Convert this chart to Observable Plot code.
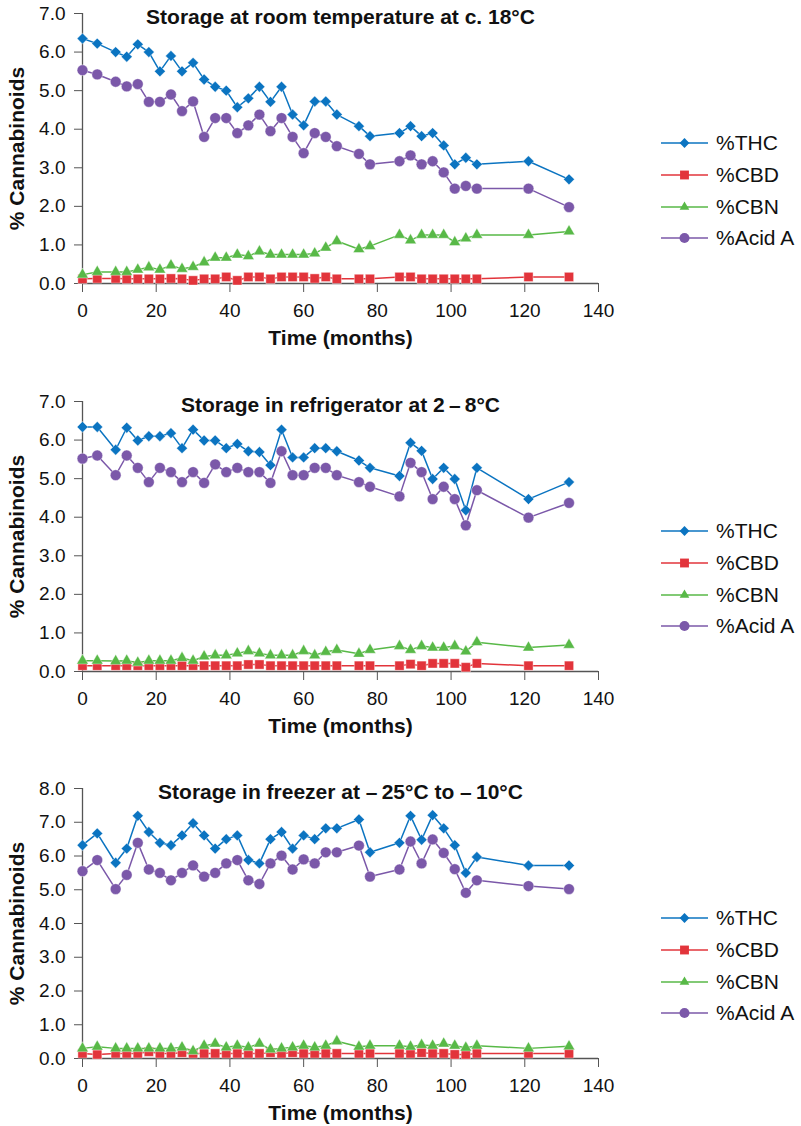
<!DOCTYPE html>
<html><head><meta charset="utf-8">
<script src="https://cdn.jsdelivr.net/npm/d3@7"></script>
<script src="https://cdn.jsdelivr.net/npm/@observablehq/plot@0.6"></script>
<style>
body{margin:0;background:#fff;font-family:"Liberation Sans",Arial,sans-serif;}
#chart{position:relative;width:801px;height:1126px;overflow:hidden;background:#fff;}
.panel{position:absolute;left:0;}
.legend{position:absolute;left:661px;}
.legend .item{position:absolute;left:0;height:24px;display:flex;align-items:center;white-space:nowrap;font-size:21px;color:#111;}
.legend .item svg{margin-right:7px;overflow:visible;}
</style></head><body><div id="chart"></div>
<script>
const months = [0,4,9,12,15,18,21,24,27,30,33,36,39,42,45,48,51,54,57,60,63,66,69,75,78,86,89,92,95,98,101,104,107,121,132];

const roomTHC  = [6.35,6.22,6.0,5.88,6.2,6.0,5.5,5.9,5.5,5.72,5.29,5.1,5.0,4.57,4.8,5.1,4.71,5.1,4.38,4.1,4.72,4.72,4.38,4.08,3.82,3.9,4.08,3.82,3.9,3.58,3.09,3.26,3.09,3.17,2.7];
const roomCBD  = [0.12,0.13,0.13,0.12,0.12,0.12,0.12,0.13,0.12,0.08,0.12,0.12,0.17,0.08,0.17,0.17,0.12,0.17,0.17,0.17,0.13,0.17,0.12,0.12,0.12,0.17,0.17,0.12,0.12,0.12,0.12,0.12,0.12,0.17,0.17];
const roomCBN  = [0.23,0.30,0.30,0.30,0.36,0.42,0.36,0.47,0.38,0.43,0.55,0.67,0.67,0.75,0.71,0.83,0.75,0.75,0.75,0.75,0.78,0.93,1.10,0.89,0.97,1.26,1.12,1.26,1.26,1.26,1.07,1.17,1.26,1.26,1.35];
const roomAcid = [5.53,5.42,5.23,5.11,5.17,4.71,4.71,4.90,4.47,4.72,3.80,4.29,4.29,3.90,4.10,4.38,3.95,4.29,3.80,3.38,3.90,3.80,3.56,3.36,3.09,3.17,3.32,3.09,3.17,2.88,2.46,2.53,2.46,2.46,1.98];

const fridgeTHC  = [6.34,6.34,5.75,6.32,5.99,6.10,6.10,6.18,5.79,6.27,5.99,5.99,5.79,5.90,5.71,5.69,5.35,6.27,5.55,5.55,5.79,5.79,5.71,5.47,5.28,5.07,5.93,5.72,4.99,5.28,4.99,4.18,5.28,4.47,4.91];
const fridgeCBD  = [0.15,0.15,0.15,0.15,0.15,0.15,0.15,0.15,0.15,0.15,0.15,0.15,0.15,0.15,0.18,0.18,0.15,0.15,0.15,0.15,0.15,0.15,0.15,0.15,0.15,0.15,0.19,0.15,0.21,0.21,0.21,0.11,0.21,0.15,0.15];
const fridgeCBN  = [0.28,0.28,0.27,0.28,0.23,0.28,0.28,0.28,0.35,0.28,0.39,0.42,0.42,0.47,0.53,0.47,0.42,0.42,0.42,0.53,0.42,0.51,0.56,0.46,0.56,0.66,0.56,0.66,0.62,0.62,0.66,0.52,0.76,0.62,0.69];
const fridgeAcid = [5.52,5.60,5.09,5.60,5.28,4.91,5.28,5.17,4.91,5.17,4.89,5.37,5.17,5.28,5.17,5.17,4.89,5.71,5.09,5.09,5.28,5.28,5.09,4.91,4.79,4.54,5.41,5.17,4.47,4.79,4.47,3.79,4.70,3.99,4.37];

const freezerTHC  = [6.32,6.67,5.80,6.22,7.19,6.71,6.39,6.32,6.61,6.97,6.61,6.22,6.50,6.61,5.88,5.78,6.50,6.71,6.22,6.61,6.50,6.82,6.82,7.08,6.11,6.39,7.19,6.48,7.21,6.82,6.32,5.50,5.97,5.72,5.72];
const freezerCBD  = [0.15,0.12,0.15,0.15,0.15,0.20,0.15,0.15,0.17,0.15,0.15,0.15,0.15,0.15,0.15,0.15,0.17,0.15,0.17,0.15,0.15,0.15,0.15,0.15,0.15,0.15,0.15,0.17,0.15,0.15,0.12,0.12,0.15,0.15,0.15];
const freezerCBN  = [0.30,0.35,0.30,0.30,0.30,0.30,0.30,0.30,0.33,0.22,0.38,0.44,0.33,0.38,0.33,0.44,0.27,0.30,0.33,0.38,0.33,0.38,0.51,0.35,0.38,0.38,0.35,0.40,0.38,0.44,0.38,0.32,0.38,0.30,0.36];
const freezerAcid = [5.55,5.88,5.02,5.44,6.39,5.60,5.50,5.28,5.50,5.72,5.39,5.50,5.78,5.88,5.28,5.17,5.78,6.01,5.60,5.90,5.78,6.11,6.11,6.31,5.39,5.60,6.43,5.78,6.49,6.09,5.61,4.91,5.28,5.11,5.02];

const seriesNames = ["%THC","%CBD","%CBN","%Acid A"];
const titles = ["Storage at room temperature at c. 18°C","Storage in refrigerator at 2\u2009\u2013\u20098°C","Storage in freezer at \u2013\u200925°C to \u2013\u200910°C"];
const xTicks = [0,20,40,60,80,100,120,140];
const yTicks7 = [0,1,2,3,4,5,6,7];
const yTicks8 = [0,1,2,3,4,5,6,7,8];
const yLabel = "% Cannabinoids";
const xLabel = "Time (months)";

const colors = ["#0b74c1","#e2343b","#58b947","#7b58a9"];
const symbols = ["diamond2","square","triangle","circle"];
const d3symbols = [d3.symbolDiamond2,d3.symbolSquare,d3.symbolTriangle,d3.symbolCircle];
const radii = [4.9,5.2,4.3,5.4];
const legendR = [4.4,5.0,3.6,5.0];

const panels = [
  {title: titles[0], values: [roomTHC,roomCBD,roomCBN,roomAcid], yTicks: yTicks7, top: 0},
  {title: titles[1], values: [fridgeTHC,fridgeCBD,fridgeCBN,fridgeAcid], yTicks: yTicks7, top: 388},
  {title: titles[2], values: [freezerTHC,freezerCBD,freezerCBN,freezerAcid], yTicks: yTicks8, top: 775}
];

const chart = document.getElementById("chart");
const axisColor = "#555";

panels.forEach(p => {
  const yMax = p.yTicks[p.yTicks.length-1];
  const marks = [
    Plot.ruleX([0], {y1: 0, y2: yMax, stroke: axisColor, strokeWidth: 1.3}),
    Plot.ruleY([0], {x1: 0, x2: xTicks[xTicks.length-1], stroke: axisColor, strokeWidth: 1.3}),
    Plot.axisY({ticks: p.yTicks, tickFormat: d => d.toFixed(1), tickSize: 8, tickPadding: 9, fontSize: 19, stroke: axisColor, fill: "#111", label: null}),
    Plot.axisX({ticks: xTicks, tickSize: 9, tickPadding: 11, fontSize: 19, stroke: axisColor, fill: "#111", label: null}),
    Plot.text([p.title], {frameAnchor: "top", lineAnchor: "middle", dy: 4, fontWeight: "bold", fontSize: 21, fill: "#111"}),
    Plot.text([xLabel], {frameAnchor: "bottom", lineAnchor: "middle", dy: 55, fontWeight: "bold", fontSize: 21, fill: "#111"}),
    Plot.text([yLabel], {frameAnchor: "left", textAnchor: "middle", lineAnchor: "middle", dx: -65, rotate: -90, fontWeight: "bold", fontSize: 21, fill: "#111"})
  ];
  p.values.forEach((vals, k) => {
    const rows = months.map((m, i) => ({month: m, value: vals[i]}));
    marks.push(Plot.line(rows, {x: "month", y: "value", stroke: colors[k], strokeWidth: 1.5}));
    marks.push(Plot.dot(rows, {x: "month", y: "value", symbol: symbols[k], fill: colors[k], r: radii[k], stroke: "white", strokeWidth: 0.4}));
  });
  const svg = Plot.plot({
    width: 801, height: 360,
    marginTop: 13, marginBottom: 77, marginLeft: 82, marginRight: 203,
    style: {fontFamily: "'Liberation Sans', Arial, sans-serif", background: "white", overflow: "visible"},
    x: {domain: [0, xTicks[xTicks.length-1]]},
    y: {domain: [0, yMax]},
    marks
  });
  const div = document.createElement("div");
  div.className = "panel";
  div.style.top = p.top + "px";
  div.appendChild(svg);
  chart.appendChild(div);

  const leg = document.createElement("div");
  leg.className = "legend";
  leg.style.top = (p.top + 131) + "px";
  seriesNames.forEach((name, k) => {
    const item = document.createElement("div");
    item.className = "item";
    item.style.top = (k * 31.8) + "px";
    const s = d3.create("svg").attr("width", 48).attr("height", 24);
    s.append("line").attr("x1", 0).attr("x2", 47).attr("y1", 12).attr("y2", 12).attr("stroke", colors[k]).attr("stroke-width", 1.5);
    s.append("path").attr("transform", "translate(23.5,12)").attr("d", d3.symbol(d3symbols[k], Math.PI * legendR[k] * legendR[k])()).attr("fill", colors[k]);
    item.appendChild(s.node());
    const t = document.createElement("span");
    t.textContent = name;
    item.appendChild(t);
    leg.appendChild(item);
  });
  chart.appendChild(leg);
});
</script></body></html>
